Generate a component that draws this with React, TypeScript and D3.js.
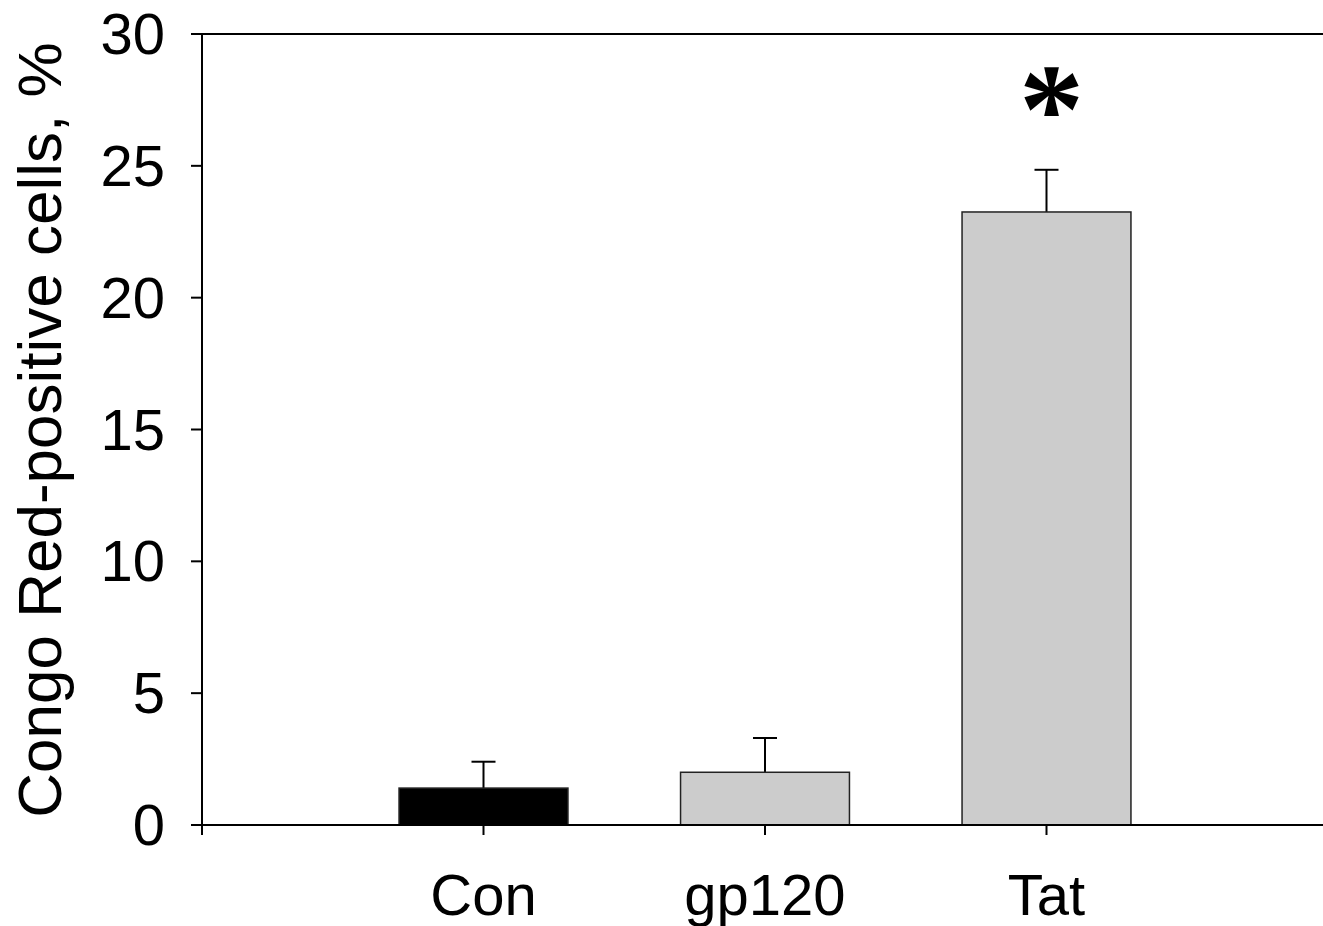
import React from "react";
import * as d3 from "d3";

const categories = ["Con", "gp120", "Tat"];
const means = [1.4, 2.0, 23.25];
const errors = [1.0, 1.3, 1.6];
const fills = ["#000000", "#cccccc", "#cccccc"];
const yTicks = [0, 5, 10, 15, 20, 25, 30];
const significance = ["", "", "*"];

const W = 1323;
const H = 926;
const left = 202;
const top = 34;
const bottom = 825;
const right = 1328;
const FONT = "'Liberation Sans', Arial, sans-serif";

export default function App() {
  const x = d3.scaleLinear().domain([0, 4]).range([left, right]);
  const y = d3.scaleLinear().domain([0, 30]).range([bottom, top]);
  const step = x(1) - x(0);
  const bw = step * 0.6;
  const capHalf = 12;

  return (
    <svg
      width={W}
      height={H}
      style={{ position: "absolute", left: 0, top: 0, background: "#fff" }}
    >
      {categories.map((c, i) => {
        const cx = x(i + 1);
        return (
          <g key={c}>
            <line
              x1={cx}
              x2={cx}
              y1={y(means[i])}
              y2={y(means[i] + errors[i])}
              stroke="#000"
              strokeWidth={2}
            />
            <line
              x1={cx - capHalf}
              x2={cx + capHalf}
              y1={y(means[i] + errors[i])}
              y2={y(means[i] + errors[i])}
              stroke="#000"
              strokeWidth={2}
            />
            <rect
              x={cx - bw / 2}
              y={y(means[i])}
              width={bw}
              height={y(0) - y(means[i])}
              fill={fills[i]}
              stroke="#222"
              strokeWidth={1.5}
            />
            {significance[i] && (
              <text
                x={cx + 5}
                y={y(means[i] + errors[i]) - 17}
                textAnchor="middle"
                fontFamily="'Liberation Serif', 'Times New Roman', serif"
                fontWeight="bold"
                fontSize={130}
                fill="#000"
              >
                {significance[i]}
              </text>
            )}
          </g>
        );
      })}
      <line x1={left - 11} x2={W + 10} y1={top} y2={top} stroke="#000" strokeWidth={2} />
      <line x1={left - 11} x2={W + 10} y1={bottom} y2={bottom} stroke="#000" strokeWidth={2} />
      <line x1={left} x2={left} y1={top} y2={bottom + 10} stroke="#000" strokeWidth={2} />
      {yTicks.map((t) => (
        <g key={t}>
          <line x1={left - 11} x2={left} y1={y(t)} y2={y(t)} stroke="#000" strokeWidth={2} />
          <text
            x={165}
            y={y(t) + 20}
            textAnchor="end"
            fontFamily={FONT}
            fontSize={58}
            fill="#000"
          >
            {t}
          </text>
        </g>
      ))}
      {categories.map((c, i) => (
        <g key={c}>
          <line
            x1={x(i + 1)}
            x2={x(i + 1)}
            y1={bottom}
            y2={bottom + 10}
            stroke="#000"
            strokeWidth={2}
          />
          <text
            x={x(i + 1)}
            y={915}
            textAnchor="middle"
            fontFamily={FONT}
            fontSize={58}
            fill="#000"
          >
            {c}
          </text>
        </g>
      ))}
      <text
        transform={`translate(61, ${(40 + 820) / 2}) rotate(-90)`}
        textAnchor="middle"
        fontFamily={FONT}
        fontSize={62}
        fill="#000"
      >
        Congo Red-positive cells, %
      </text>
    </svg>
  );
}
